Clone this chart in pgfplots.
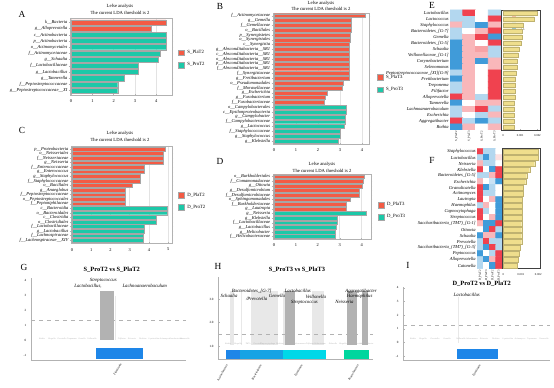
\documentclass[border=0pt]{standalone}
\usepackage{fontspec}
\setmainfont{Liberation Serif}
\usepackage{pgfplots}
\pgfplotsset{compat=1.18}
\usepackage{pgfplotstable}
\definecolor{lred}{HTML}{F35B45}
\definecolor{lteal}{HTML}{1CC8A8}
\definecolor{impy}{HTML}{EFDE8C}
\definecolor{phA}{HTML}{1E86E8}
\definecolor{phB}{HTML}{16A3E4}
\definecolor{phF}{HTML}{00D8E8}
\definecolor{phP}{HTML}{00D69E}
\newcommand{\fs}[1]{\fontsize{#1}{#1}\selectfont}
\tikzset{ann/.style={font=\fs{3.6}\itshape, inner sep=0pt}}
\pgfplotsset{
 lefse/.style={scale only axis, xbar, bar shift=0pt, bar width=0.82, y dir=reverse,
   axis line style={draw=gray!60, line width=0.4pt},
   xmajorgrids, grid style={draw=gray!22, line width=0.35pt},
   tick style={draw=gray!60, line width=0.3pt}, major tick length=1pt,
   /pgf/number format/assume math mode=true,
   xticklabel style={font=\fs{3.3}},
   yticklabel style={font=\fs{3.4}\itshape, inner sep=0.8pt},
   legend style={draw=none, fill=none, font=\fs{3.6}, legend cell align=left, row sep=1.2pt, inner sep=0pt, anchor=west}},
 lgbox/.style={legend image code/.code={\fill[##1] (0pt,-2.2pt) rectangle (4.5pt,2.2pt);}},
 rb/.style={fill=lred, draw=gray!70, line width=0.3pt, lgbox},
 tb/.style={fill=lteal, draw=gray!70, line width=0.3pt, lgbox},
 hm/.style={scale only axis, y dir=reverse, axis line style={draw=none}, tick style={draw=none},
   colormap={hmc}{rgb255(0cm)=(25,135,210) rgb255(1cm)=(160,205,235) rgb255(2cm)=(255,255,255) rgb255(3cm)=(247,165,168) rgb255(4cm)=(238,45,60)},
   point meta min=-1.75, point meta max=1.75, xmin=-0.5, xmax=3.5, ymin=0.5, ymax=20.5,
   xtick={0,1,2,3}, ytick={1,...,20},
   yticklabel style={font=\fs{3.4}\itshape, inner sep=0.8pt},
   xticklabel style={font=\fs{2.2}, rotate=90, anchor=east, inner sep=0.8pt}},
 imp/.style={scale only axis, xbar, bar shift=0pt, bar width=0.78, y dir=reverse,
   ymin=0.5, ymax=20.5, ytick=\empty, axis line style={draw=gray!50!black, line width=0.6pt},
   xtick={0,1,2}, xticklabels={0,0.001,0.002}, xticklabel style={font=\fs{2.2}},
   tick style={draw=gray!60}, major tick length=0.8pt},
 man/.style={scale only axis, axis lines*=left, axis line style={draw=gray!60, line width=0.4pt},
   xtick=\empty, yticklabel style={font=\fs{2.4}}, major tick length=1pt, tick style={draw=gray!60},
   /pgf/number format/assume math mode=true, clip=false},
 tinyl/.style={draw=none, nodes near coords, point meta=explicit symbolic,
   every node near coord/.append style={font=\fs{1.6}\itshape, text=gray!60, anchor=center, inner sep=0pt}}
}
\begin{document}
\begin{tikzpicture}[x=0.75pt,y=-0.75pt]
\path[use as bounding box] (0,0) rectangle (554,388);
% panel letters
\node[font=\fs{7}] at (22,14) {A};
\node[font=\fs{7}] at (220,6) {B};
\node[font=\fs{7}] at (22,130) {C};
\node[font=\fs{7}] at (220,161) {D};
\node[font=\fs{7}] at (432,5.5) {E};
\node[font=\fs{7}] at (432,160) {F};
\node[font=\fs{7}] at (24,267) {G};
\node[font=\fs{7}] at (218,266) {H};
\node[font=\fs{7}] at (408,265) {I};
% lefse titles
\node[font=\fs{3.5}] at (120,6) {Lefse analysis};
\node[font=\fs{3.5}] at (120,13) {The current LDA threshold is 2};
\node[font=\fs{3.5}] at (321,3.3) {Lefse analysis};
\node[font=\fs{3.5}] at (321,9.3) {The current LDA threshold is 2};
\node[font=\fs{3.5}] at (120,133.7) {Lefse analysis};
\node[font=\fs{3.5}] at (120,139.8) {The current LDA threshold is 2};
\node[font=\fs{3.5}] at (322,164.7) {Lefse analysis};
\node[font=\fs{3.5}] at (322,170.5) {The current LDA threshold is 2};

% ---------------- A
\begin{axis}[lefse, at={(52.5pt,-71.25pt)}, anchor=south west, width=76.5pt, height=57.75pt,
  xmin=-0.05, xmax=4.74, ymin=0.3, ymax=12.7, xtick={0,1,2,3,4}, ytick={1,...,12},
  yticklabels={k\_\_Bacteria, g\_\_Alloprevotella, c\_\_Actinobacteria, p\_\_Actinobacteria, o\_\_Actinomycetales, f\_\_Actinomycetaceae, g\_\_Schaalia, f\_\_Lactobacillaceae, g\_\_Lactobacillus, g\_\_Tannerella, f\_\_Peptostreptococcaceae, g\_\_Peptostreptococcaceae\_\_XI},
  legend style={at={(1.06,0.47)}}]
\addplot[rb] coordinates {(4.45,1) (3.75,2)};
\addlegendentry{S\_PlaT2}
\addplot[tb] coordinates {(4.47,3) (4.47,4) (4.47,5) (4.2,6) (4.1,7) (3.16,8) (3.16,9) (2.49,10) (2.19,11) (2.19,12)};
\addlegendentry{S\_ProT2}
\node[font=\fs{3.4}] at (axis description cs:0.5,-0.135) {LDA Score (log10)};
\end{axis}

% ---------------- B
\begin{axis}[lefse, at={(204.675pt,-107.925pt)}, anchor=south west, width=72.1pt, height=98.3pt,
  xmin=-0.05, xmax=4.32, ymin=0.4, ymax=27.6, xtick={0,1,2,3,4}, ytick={1,...,27},
  yticklabels={f\_\_Actinomycetaceae, g\_\_Gemella, f\_\_Gemellaceae, o\_\_Bacillales, p\_\_Synergistetes, o\_\_Synergistales, c\_\_Synergistia, g\_\_Absconditabacteria\_\_SR1, c\_\_Absconditabacteria\_\_SR1, o\_\_Absconditabacteria\_\_SR1, p\_\_Absconditabacteria\_\_SR1, f\_\_Absconditabacteria\_\_SR1, f\_\_Synergistaceae, g\_\_Fretibacterium, o\_\_Pseudomonadales, f\_\_Moraxellaceae, g\_\_Escherichia, g\_\_Fusobacterium, f\_\_Fusobacteriaceae, o\_\_Campylobacterales, c\_\_Epsilonproteobacteria, g\_\_Campylobacter, f\_\_Campylobacteraceae, g\_\_Lactococcus, f\_\_Staphylococcaceae, g\_\_Staphylococcus, g\_\_Klebsiella},
  legend style={at={(1.08,0.46)}}]
\addplot[rb] coordinates {(4.14,1) (3.5,2) (3.5,3) (3.5,4) (3.45,5) (3.45,6) (3.42,7) (3.42,8) (3.42,9) (3.42,10) (3.42,11) (3.42,12) (3.4,13) (3.4,14) (3.15,15) (3.1,16) (2.4,17) (2.35,18) (2.3,19)};
\addlegendentry{S\_PlaT3}
\addplot[tb] coordinates {(3.3,20) (3.3,21) (3.25,22) (3.25,23) (3.2,24) (3.0,25) (3.0,26) (2.9,27)};
\addlegendentry{S\_ProT3}
\node[font=\fs{3.4}] at (axis description cs:0.5,-0.072) {LDA Score (log10)};
\end{axis}

% ---------------- C
\begin{axis}[lefse, at={(53.25pt,-182.55pt)}, anchor=south west, width=75.75pt, height=73.2pt,
  xmin=-0.05, xmax=5.2, ymin=0.3, ymax=21.7, xtick={0,1,2,3,4,5}, ytick={1,...,21},
  yticklabels={p\_\_Proteobacteria, o\_\_Neisseriales, f\_\_Neisseriaceae, g\_\_Neisseria, f\_\_Enterococcaceae, g\_\_Enterococcus, g\_\_Staphylococcus, f\_\_Staphylococcaceae, o\_\_Bacillales, g\_\_Anaeglobus, f\_\_Peptostreptococcaceae, o\_\_Peptostreptococcales, f\_\_Peptoniphilaceae, c\_\_Bacteroidia, o\_\_Bacteroidales, c\_\_Clostridia, o\_\_Clostridiales, f\_\_Lactobacillaceae, g\_\_Lactobacillus, f\_\_Lachnospiraceae, f\_\_Lachnospiraceae\_\_XIV},
  legend style={at={(1.06,0.43)}}]
\addplot[rb] coordinates {(4.84,1) (4.72,2) (4.72,3) (4.72,4) (3.78,5) (3.78,6) (3.54,7) (3.54,8) (3.13,9) (2.76,10) (2.76,11) (2.76,12) (2.76,13)};
\addlegendentry{D\_PlaT2}
\addplot[tb] coordinates {(4.93,14) (4.93,15) (4.38,16) (4.38,17) (3.75,18) (3.75,19) (3.7,20) (3.68,21)};
\addlegendentry{D\_ProT2}
\node[font=\fs{3.4}] at (axis description cs:0.5,-0.115) {LDA Score (log10)};
\end{axis}

% ---------------- D
\begin{axis}[lefse, at={(204.675pt,-179.475pt)}, anchor=south west, width=73.6pt, height=49.05pt,
  xmin=-0.05, xmax=4.43, ymin=0.4, ymax=14.6, xtick={0,1,2,3,4}, ytick={1,...,14},
  yticklabels={o\_\_Burkholderiales, f\_\_Comamonadaceae, g\_\_Ottowia, g\_\_Desulfomicrobium, f\_\_Desulfomicrobiaceae, o\_\_Sphingomonadales, f\_\_Burkholderiaceae, g\_\_Lautropia, g\_\_Neisseria, g\_\_Klebsiella, f\_\_Lactobacillaceae, g\_\_Lactobacillus, g\_\_Helicobacter, f\_\_Helicobacteraceae},
  legend style={at={(1.07,0.43)}}]
\addplot[rb] coordinates {(4.14,1) (4.07,2) (4.04,3) (3.88,4) (3.88,5) (3.5,6) (3.3,7) (3.3,8)};
\addlegendentry{D\_PlaT3}
\addplot[tb] coordinates {(4.23,9) (2.9,10) (2.88,11) (2.85,12) (2.8,13) (2.8,14)};
\addlegendentry{D\_ProT3}
\node[font=\fs{3.4}] at (axis description cs:0.5,-0.15) {LDA Score (log10)};
\end{axis}

% ---------------- E heatmap
\begin{axis}[hm, at={(337.5pt,-97.5pt)}, anchor=south west, width=38.25pt, height=90pt,
  xticklabels={S\_PlaT2,S\_PlaT3,S\_ProT2,S\_ProT3},
  yticklabels={Lactobacillus, Lactococcus, Staphylococcus, {Bacteroidetes\_[G-7]}, Gemella, {Bacteroidetes\_[G-5]}, Schaalia, {Veillonellaceae\_[G-1]}, Corynebacterium, Selenomonas, {Peptostreptococcaceae\_[XI][G-9]}, Fretibacterium, Treponema, Filifactor, Alloprevotella, Tannerella, Lachnoanaerobaculum, Escherichia, Aggregatibacter, Rothia},
  colorbar, colorbar style={width=2.4pt, height=16pt, at={([xshift=31.7pt]parent axis.north east)}, anchor=north west,
    ytick={-1.5,0,1.5}, yticklabel style={font=\fs{2}}, major tick length=0.8pt, axis line style={draw=none},
    /pgf/number format/assume math mode=true}]
\addplot[matrix plot*, mesh/cols=4, mesh/rows=20, point meta=explicit] table[row sep=\\, meta=c] {
x y c\\
0 1 -0.7\\ 1 1 1.6\\ 2 1 0\\ 3 1 -0.7\\
0 2 -0.7\\ 1 2 -0.7\\ 2 2 0\\ 3 2 1.6\\
0 3 0.7\\ 1 3 -0.7\\ 2 3 -1.5\\ 3 3 0.7\\
0 4 -0.7\\ 1 4 0\\ 2 4 0.7\\ 3 4 1.6\\
0 5 -0.7\\ 1 5 0.7\\ 2 5 1.6\\ 3 5 -1.5\\
0 6 -1.5\\ 1 6 0.7\\ 2 6 0\\ 3 6 1.6\\
0 7 -1.5\\ 1 7 0.7\\ 2 7 0.9\\ 3 7 -0.7\\
0 8 -1.5\\ 1 8 0.7\\ 2 8 0.7\\ 3 8 -0.7\\
0 9 -1.5\\ 1 9 0.7\\ 2 9 -1.5\\ 3 9 0.7\\
0 10 -1.5\\ 1 10 0.7\\ 2 10 0\\ 3 10 0.7\\
0 11 -0.7\\ 1 11 0.7\\ 2 11 0\\ 3 11 1.6\\
0 12 -1.5\\ 1 12 0.7\\ 2 12 0\\ 3 12 1.6\\
0 13 -0.7\\ 1 13 0.7\\ 2 13 0\\ 3 13 1.6\\
0 14 -0.7\\ 1 14 0.7\\ 2 14 0\\ 3 14 1.6\\
0 15 1.6\\ 1 15 0.7\\ 2 15 -0.7\\ 3 15 1.6\\
0 16 -1.5\\ 1 16 0\\ 2 16 0.7\\ 3 16 0.7\\
0 17 -0.7\\ 1 17 0.7\\ 2 17 1.6\\ 3 17 -0.7\\
0 18 -0.7\\ 1 18 0\\ 2 18 -0.7\\ 3 18 0.7\\
0 19 1.6\\ 1 19 -0.7\\ 2 19 -1.5\\ 3 19 -0.7\\
0 20 -1.5\\ 1 20 0.7\\ 2 20 0\\ 3 20 0.7\\
};
\end{axis}
\begin{axis}[imp, at={(376.275pt,-97.5pt)}, anchor=south west, width=28.7pt, height=90pt, xmin=-0.076, xmax=2.15]
\addplot[fill=impy, draw=impy!80!black, line width=0.2pt] coordinates {(1.98,1) (1.80,2) (1.16,3) (1.10,4) (1.10,5) (1.05,6) (0.93,7) (0.87,8) (0.81,9) (0.81,10) (0.76,11) (0.73,12) (0.73,13) (0.70,14) (0.70,15) (0.67,16) (0.67,17) (0.64,18) (0.64,19) (0.64,20)};
\node[font=\fs{2.6}] at (axis description cs:0.5,1.035) {Importance};
\end{axis}

% ---------------- F heatmap
\begin{axis}[hm, at={(357.75pt,-201.525pt)}, anchor=south west, width=18.75pt, height=90pt,
  xticklabels={D\_PlaT2,D\_PlaT3,D\_ProT2,D\_ProT3},
  yticklabels={Staphylococcus, Lactobacillus, Neisseria, Klebsiella, {Bacteroidetes\_[G-5]}, Escherichia, Granulicatella, Actinomyces, Lautropia, Haemophilus, Capnocytophaga, Streptococcus, {Saccharibacteria\_(TM7)\_[G-1]}, Ottowia, Schaalia, Prevotella, {Saccharibacteria\_(TM7)\_[G-3]}, Peptococcus, Alloprevotella, Catonella},
  colorbar, colorbar style={width=2.4pt, height=16pt, at={([xshift=31pt]parent axis.north east)}, anchor=north west,
    ytick={-1.5,0,1.5}, yticklabel style={font=\fs{2}}, major tick length=0.8pt, axis line style={draw=none},
    /pgf/number format/assume math mode=true}]
\addplot[matrix plot*, mesh/cols=4, mesh/rows=20, point meta=explicit] table[row sep=\\, meta=c] {
x y c\\
0 1 1.6\\ 1 1 -0.7\\ 2 1 -0.7\\ 3 1 0\\
0 2 -0.7\\ 1 2 -1.5\\ 2 2 -0.7\\ 3 2 0.3\\
0 3 0.7\\ 1 3 -0.7\\ 2 3 -0.7\\ 3 3 0\\
0 4 1.6\\ 1 4 0\\ 2 4 -1.5\\ 3 4 1.6\\
0 5 -0.7\\ 1 5 -0.7\\ 2 5 0.7\\ 3 5 1.6\\
0 6 0.7\\ 1 6 0\\ 2 6 -0.5\\ 3 6 -1.5\\
0 7 1.6\\ 1 7 -1.5\\ 2 7 -0.7\\ 3 7 0\\
0 8 1.6\\ 1 8 -0.7\\ 2 8 -0.7\\ 3 8 0\\
0 9 1.6\\ 1 9 0\\ 2 9 0.7\\ 3 9 -1.5\\
0 10 -0.7\\ 1 10 0.7\\ 2 10 0\\ 3 10 -1.5\\
0 11 1.6\\ 1 11 -0.7\\ 2 11 0\\ 3 11 -1.5\\
0 12 1.6\\ 1 12 0\\ 2 12 0.7\\ 3 12 -1.5\\
0 13 0.7\\ 1 13 -1.5\\ 2 13 -1.5\\ 3 13 1.6\\
0 14 0\\ 1 14 -1.5\\ 2 14 1.6\\ 3 14 -0.7\\
0 15 -1.5\\ 1 15 0.7\\ 2 15 0.7\\ 3 15 -1.5\\
0 16 -0.7\\ 1 16 1.6\\ 2 16 -0.7\\ 3 16 -0.7\\
0 17 -0.7\\ 1 17 -1.5\\ 2 17 1.6\\ 3 17 -0.7\\
0 18 -1.5\\ 1 18 0\\ 2 18 -0.7\\ 3 18 1.6\\
0 19 -0.7\\ 1 19 -1.5\\ 2 19 0.7\\ 3 19 1.6\\
0 20 -0.7\\ 1 20 0\\ 2 20 -1.5\\ 3 20 1.6\\
};
\end{axis}
\begin{axis}[imp, at={(376.875pt,-201.525pt)}, anchor=south west, width=28.1pt, height=90pt, xmin=-0.046, xmax=2.1]
\addplot[fill=impy, draw=impy!80!black, line width=0.2pt] coordinates {(2.0,1) (1.98,2) (1.80,3) (1.51,4) (1.34,5) (1.28,6) (1.15,7) (1.15,8) (1.10,9) (1.10,10) (1.10,11) (1.10,12) (1.05,13) (1.05,14) (1.05,15) (1.05,16) (0.99,17) (0.89,18) (0.85,19) (0.80,20)};
\node[font=\fs{2.6}] at (axis description cs:0.5,1.035) {Importance};
\end{axis}

% ---------------- G
\node[font=\fs{4.8}\bfseries] at (111.7,270) {S\_ProT2 vs S\_PlaT2};
\begin{axis}[man, at={(23.25pt,-270pt)}, anchor=south west, width=116.25pt, height=61.5pt,
  xmin=31, xmax=186, ymin=-1.333, ymax=4.133, ytick={-1,0,1,2,3,4}]
\addplot[fill=gray!60, draw=none] coordinates {(100,0) (100,3.25) (114,3.25) (114,0)} -- cycle;
\addplot[fill=gray!18, draw=none] coordinates {(115,0) (115,2.95) (116.5,2.95) (116.5,0)} -- cycle;
\addplot[dashed, gray!60, line width=0.4pt] coordinates {(31,1.3) (186,1.3)};
\addplot[fill=phA, draw=none] coordinates {(96,-0.553) (143.3,-0.553) (143.3,-1.267) (96,-1.267)} -- cycle;
\addplot[tinyl] coordinates {(42,0.07)[Rothia] (52,0.07)[Kingella] (62,0.07)[Prevotella] (72,0.07)[Treponema] (82,0.07)[Gemella] (92,0.07)[Veillonella] (106,0.07)[Selenomonas] (122,0.07)[Filifactor] (132,0.07)[Neisseria] (143,0.07)[Dialister] (154,0.07)[Leptotrichia] (165,0.07)[Actinomyces] (176,0.07)[Fusobacterium] (185,0.07)[Tannerella]};
\node[ann] at (axis cs:103.3,3.95) {Streptococcus};
\node[ann] at (axis cs:88,3.6) {Lactobacillus,};
\node[ann] at (axis cs:144.7,3.6) {Lachnoanaerobaculum};
\node[font=\fs{2.3}, rotate=60, anchor=east, inner sep=0pt] at (axis cs:121,-1.55) {Firmicutes};
\end{axis}

% ---------------- H
\node[font=\fs{4.8}\bfseries] at (297,270) {S\_ProT3 vs S\_PlaT3};
\begin{axis}[man, at={(163.725pt,-269.25pt)}, anchor=south west, width=116pt, height=61.7pt,
  xmin=218.3, xmax=373, ymin=0.447, ymax=3.948, ytick={1,2,3},
  yticklabel style={/pgf/number format/.cd, fixed, fixed zerofill, precision=1}]
\addplot[fill=gray!18, draw=none] coordinates {(230,1.04) (230,3.354) (234,3.354) (234,1.04)} -- cycle;
\addplot[fill=gray!18, draw=none] coordinates {(241,1.04) (241,3.354) (242.5,3.354) (242.5,1.04)} -- cycle;
\addplot[fill=gray!18, draw=none] coordinates {(250.7,1.04) (250.7,3.354) (278.3,3.354) (278.3,1.04)} -- cycle;
\addplot[fill=gray!18, draw=none] coordinates {(282.7,1.04) (282.7,3.354) (285,3.354) (285,1.04)} -- cycle;
\addplot[fill=gray!18, draw=none] coordinates {(311.7,1.04) (311.7,3.354) (324.3,3.354) (324.3,1.04)} -- cycle;
\addplot[fill=gray!60, draw=none] coordinates {(285,1.04) (285,3.354) (295,3.354) (295,1.04)} -- cycle;
\addplot[fill=gray!60, draw=none] coordinates {(346.7,1.04) (346.7,3.354) (357.3,3.354) (357.3,1.04)} -- cycle;
\addplot[fill=gray!60, draw=none] coordinates {(362.3,1.04) (362.3,3.354) (367.7,3.354) (367.7,1.04)} -- cycle;
\addplot[dashed, gray!60, line width=0.4pt] coordinates {(218.3,1.498) (373,1.498)};
\addplot[fill=phA, draw=none] coordinates {(225.7,0.83) (240,0.83) (240,0.447) (225.7,0.447)} -- cycle;
\addplot[fill=phB, draw=none] coordinates {(240,0.83) (282.7,0.83) (282.7,0.447) (240,0.447)} -- cycle;
\addplot[fill=phF, draw=none] coordinates {(282.7,0.83) (325.7,0.83) (325.7,0.447) (282.7,0.447)} -- cycle;
\addplot[fill=phP, draw=none] coordinates {(344.3,0.83) (369,0.83) (369,0.447) (344.3,0.447)} -- cycle;
\addplot[tinyl] coordinates {(228,1.08)[Rothia] (238,1.08)[Kingella] (248,1.08)[TM7x] (258,1.08)[Prevotella] (268,1.08)[Capnocytophaga] (280,1.08)[Dialister] (300,1.08)[Selenomonas] (310,1.08)[Filifactor] (320,1.08)[Oribacterium] (333,1.08)[Eikenella] (343,1.08)[Kingella] (355,1.08)[Cardiobacterium] (367,1.08)[Campylobacter]};
\node[ann] at (axis cs:229,3.116) {Schaalia};
\node[ann] at (axis cs:251.7,3.34) {Bacteroidetes\_[G-7]};
\node[ann] at (axis cs:256.7,3.01) {/Prevotella};
\node[ann] at (axis cs:277,3.12) {Gemella};
\node[ann] at (axis cs:297.8,3.34) {Lactobacillus};
\node[ann] at (axis cs:315.8,3.09) {Veillonella};
\node[ann] at (axis cs:304.5,2.87) {Streptococcus};
\node[ann] at (axis cs:361,3.34) {Aggregatibacter};
\node[ann] at (axis cs:359.7,3.116) {Haemophilus};
\node[ann] at (axis cs:344.5,2.87) {Neisseria};
\node[font=\fs{2.3}, rotate=60, anchor=east, inner sep=0pt] at (axis cs:227,0.2) {Actinobacteria};
\node[font=\fs{2.3}, rotate=60, anchor=east, inner sep=0pt] at (axis cs:261,0.2) {Bacteroidetes};
\node[font=\fs{2.3}, rotate=60, anchor=east, inner sep=0pt] at (axis cs:302,0.2) {Firmicutes};
\node[font=\fs{2.3}, rotate=60, anchor=east, inner sep=0pt] at (axis cs:358,0.2) {Proteobacteria};
\end{axis}

% ---------------- I
\node[font=\fs{4.8}\bfseries] at (481.7,283.3) {D\_ProT2 vs D\_PlaT2};
\begin{axis}[man, at={(302.475pt,-270pt)}, anchor=south west, width=110pt, height=55pt,
  xmin=403.3, xmax=550, ymin=-1.27, ymax=4.09, ytick={-1,0,1,2,3,4}]
\addplot[fill=gray!18, draw=none] coordinates {(457.8,0) (457.8,3.3) (459,3.3) (459,0)} -- cycle;
\addplot[dashed, gray!60, line width=0.4pt] coordinates {(403.3,1.3) (550,1.3)};
\addplot[fill=phA, draw=none] coordinates {(457.3,-0.48) (498.3,-0.48) (498.3,-1.21) (457.3,-1.21)} -- cycle;
\addplot[tinyl] coordinates {(413,0.27)[Rothia] (423,0.27)[Kingella] (435,0.27)[Prevotella] (447,0.27)[Gemella] (461,0.27)[Veillonella] (472,0.27)[Selenomonas] (484,0.27)[Neisseria] (496,0.27)[Dialister] (508,0.27)[Leptotrichia] (520,0.27)[Actinomyces] (532,0.27)[Treponema] (544,0.27)[Tannerella]};
\node[ann] at (axis cs:466.8,3.46) {Lactobacillus};
\node[font=\fs{2.3}, rotate=60, anchor=east, inner sep=0pt] at (axis cs:480,-1.6) {Firmicutes};
\end{axis}
\end{tikzpicture}
\end{document}
